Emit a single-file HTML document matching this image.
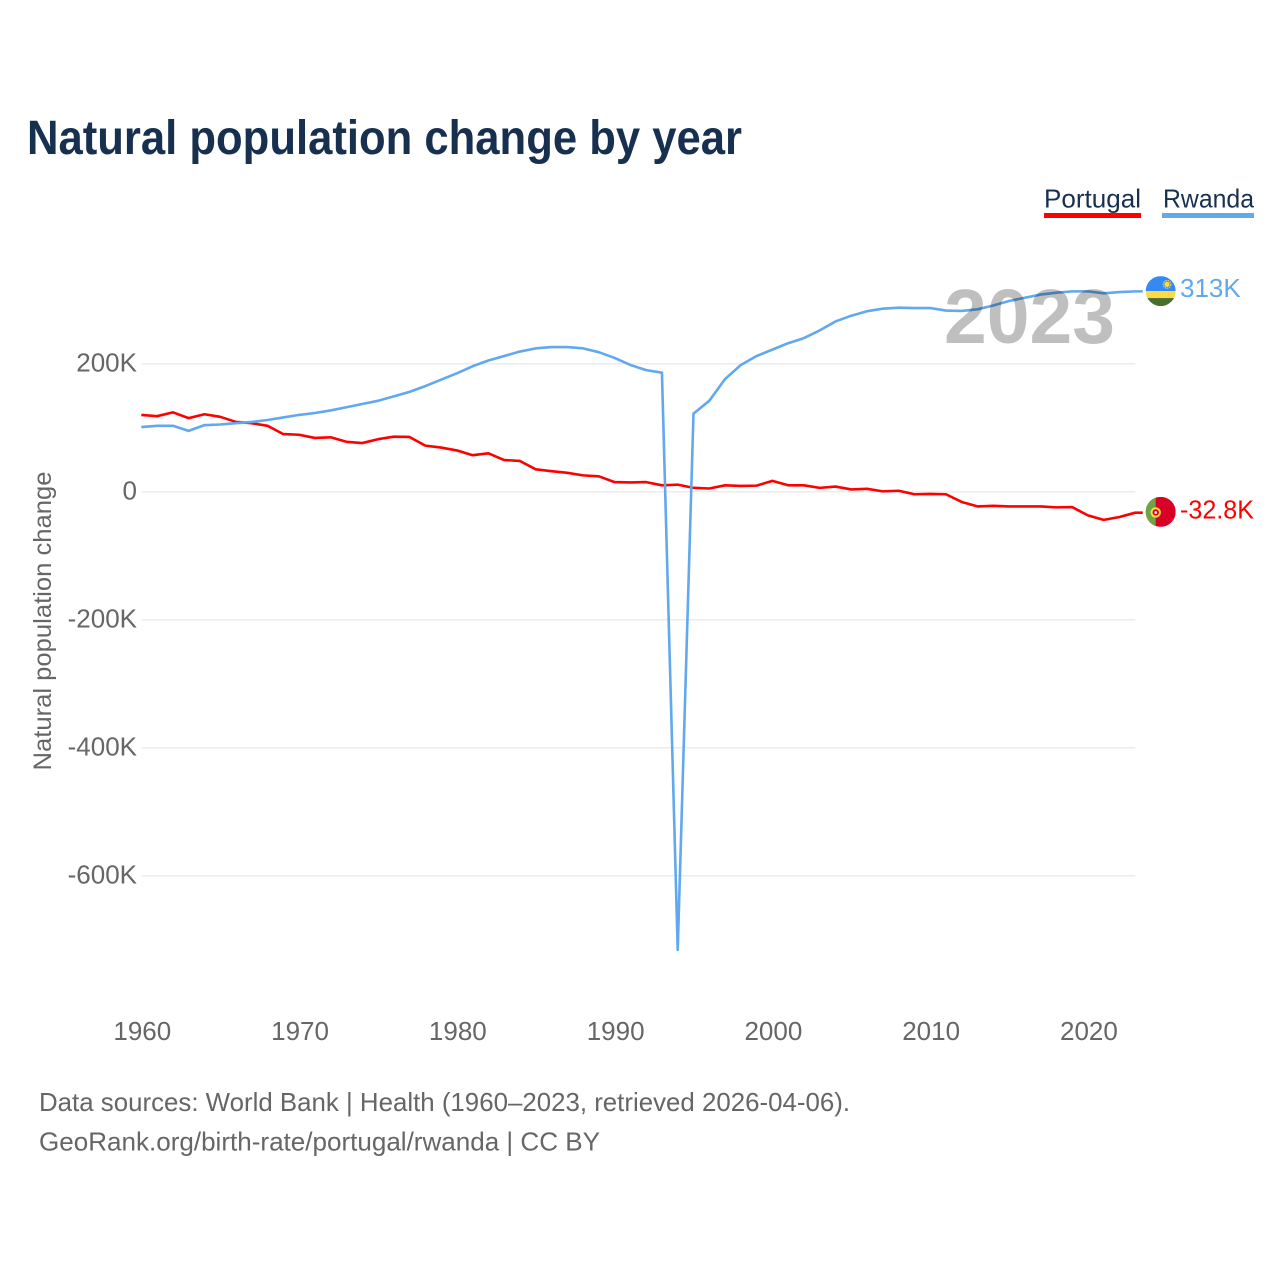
<!DOCTYPE html>
<html lang="en">
<head>
<meta charset="utf-8">
<title>Natural population change by year</title>
<style>
html,body{margin:0;padding:0;background:#fff;width:1280px;height:1280px;overflow:hidden}
svg{display:block;font-family:"Liberation Sans",sans-serif}
</style>
</head>
<body>
<svg id="chart" xmlns="http://www.w3.org/2000/svg" width="1280" height="1280" viewBox="0 0 1280 1280">
  <defs>
    <clipPath id="flag-clip"><circle cx="0" cy="0" r="15"></circle></clipPath>
  </defs>
  <text x="27" y="154" font-size="48" font-weight="700" fill="#17304f" textLength="715" lengthAdjust="spacingAndGlyphs">Natural population change by year</text>

  <g>
    <text x="1044" y="207.5" font-size="26" fill="#17304f" textLength="97" lengthAdjust="spacingAndGlyphs">Portugal</text>
    <rect x="1044" y="213" width="97" height="5" fill="#ff0000"></rect>
  </g>
  <g>
    <text x="1163" y="207.5" font-size="26" fill="#17304f" textLength="91" lengthAdjust="spacingAndGlyphs">Rwanda</text>
    <rect x="1162" y="213" width="92" height="5" fill="#62a8ee"></rect>
  </g>

  <g id="grid"></g>
  <g id="y-ticks"></g>
  <g id="x-ticks"></g>
  <text transform="translate(51,621) rotate(-90)" text-anchor="middle" font-size="25" fill="#666666" textLength="299" lengthAdjust="spacingAndGlyphs">Natural population change</text>

  <g id="series"></g>

  <text x="944" y="343" font-size="77" font-weight="700" fill="#000000" fill-opacity="0.25" textLength="171" lengthAdjust="spacingAndGlyphs">2023</text>

  <g id="end-rwanda">
    <g clip-path="url(#flag-clip)">
      <rect x="-15" y="-15" width="30" height="15" fill="#338af3"></rect>
      <rect x="-15" y="0" width="30" height="7" fill="#ffda44"></rect>
      <rect x="-15" y="7" width="30" height="8" fill="#496e2d"></rect>
      <circle cx="6.3" cy="-6.7" r="2.6" fill="#ffda44"></circle>
      <circle cx="6.3" cy="-6.7" r="3.8" fill="none" stroke="#ffda44" stroke-width="1.2" stroke-dasharray="1.3 1"></circle>
    </g>
    <text id="label-rwanda" x="19.3" y="6" font-size="26" fill="#62a8ee"></text>
  </g>
  <g id="end-portugal">
    <g clip-path="url(#flag-clip)">
      <rect x="-15" y="-15" width="30" height="30" fill="#d80027"></rect>
      <rect x="-15" y="-15" width="10" height="30" fill="#6da544"></rect>
      <circle cx="-5" cy="0.5" r="5.2" fill="#ffda44"></circle>
      <circle cx="-5" cy="0.5" r="3.2" fill="#d80027"></circle>
      <rect x="-6.2" y="-0.8" width="2.4" height="2.8" rx="0.8" fill="#f0f0f0"></rect>
    </g>
    <text id="label-portugal" x="19.3" y="6.5" font-size="26" fill="#ff0000" textLength="74" lengthAdjust="spacingAndGlyphs"></text>
  </g>

  <text x="39" y="1111" font-size="26" fill="#666666" textLength="811" lengthAdjust="spacingAndGlyphs">Data sources: World Bank | Health (1960–2023, retrieved 2026-04-06).</text>
  <text x="39" y="1150.5" font-size="26" fill="#666666" textLength="561" lengthAdjust="spacingAndGlyphs">GeoRank.org/birth-rate/portugal/rwanda | CC BY</text>
</svg>
<script>
const startYear = 1960;
const xTickLabels = [1960, 1970, 1980, 1990, 2000, 2010, 2020];
const yTickValues = [200, 0, -200, -400, -600];
const yTickLabels = ["200K", "0", "-200K", "-400K", "-600K"];
const portugalValues = [120,118,124,115,121,117,109,107,103,90,89,84,85,78,76,82,86,85.5,72,69,64.5,57,60,49.5,48,35,32,29.5,25.5,24,15,14.5,15,10,11,6,5,10,9,9.5,17,10,10,6,8,3.5,4.5,0.5,1.5,-4,-3.5,-4,-16,-23,-22,-23,-23,-23,-24.5,-24,-37,-44,-39.5,-32.8];
const rwandaValues = [101,103,103,95,104,105,107,109,112,116,120,123,127,132,137,142,149,156,165,175,185,196,205,212,219,224,226,226,224,218,209,198,190,186,-716,122,142,176,198,212,222,232,240,252,266,275,282,286,287.5,287,287,283,282.5,285,291,298,303,308,311,313,313,310,312,313];

const NS = "http://www.w3.org/2000/svg";
function xScale(year) { return 141.3 + (year - 1960) * 15.777; }
function yScale(value) { return 491.7 - value * 0.64; }
function formatValue(v) {
  return (Math.abs(v) >= 100 ? String(Math.round(v)) : v.toFixed(1)) + "K";
}

const grid = document.getElementById("grid");
const yTicks = document.getElementById("y-ticks");
yTickValues.forEach(function (v, i) {
  const line = document.createElementNS(NS, "line");
  
  
  line.setAttribute("x1", xScale(1960));
  line.setAttribute("x2", xScale(2023));
  line.setAttribute("y1", yScale(v));
  line.setAttribute("y2", yScale(v));
  line.setAttribute("stroke", "#ececec");
  line.setAttribute("stroke-width", "1.5");
  grid.appendChild(line);
  const t = document.createElementNS(NS, "text");
  
  
  t.setAttribute("x", 137);
  t.setAttribute("y", yScale(v) + 8);
  t.setAttribute("text-anchor", "end");
  t.setAttribute("font-size", "26");
  t.setAttribute("fill", "#666666");
  t.textContent = yTickLabels[i];
  yTicks.appendChild(t);
});

const xTicks = document.getElementById("x-ticks");
xTickLabels.forEach(function (year) {
  const t = document.createElementNS(NS, "text");
  
  
  t.setAttribute("x", xScale(year) + 1);
  t.setAttribute("y", 1040);
  t.setAttribute("text-anchor", "middle");
  t.setAttribute("font-size", "26");
  t.setAttribute("fill", "#666666");
  t.textContent = String(year);
  xTicks.appendChild(t);
});

function linePath(values) {
  let d = values.map(function (v, i) {
    return (i ? "L" : "M") + xScale(startYear + i).toFixed(2) + " " + yScale(v).toFixed(2);
  }).join(" ");
  const lastY = yScale(values[values.length - 1]);
  const lastX = xScale(startYear + values.length - 1);
  return d + " L" + (lastX + 7.5).toFixed(2) + " " + lastY.toFixed(2);
}

const seriesGroup = document.getElementById("series");
const portugalLine = document.createElementNS(NS, "path");


portugalLine.setAttribute("d", linePath(portugalValues));
portugalLine.setAttribute("fill", "none");
portugalLine.setAttribute("stroke", "#ff0000");
portugalLine.setAttribute("stroke-width", "2.6");
portugalLine.setAttribute("stroke-linejoin", "round");
seriesGroup.appendChild(portugalLine);

const rwandaLine = document.createElementNS(NS, "path");


rwandaLine.setAttribute("d", linePath(rwandaValues));
rwandaLine.setAttribute("fill", "none");
rwandaLine.setAttribute("stroke", "#62a8ee");
rwandaLine.setAttribute("stroke-width", "2.6");
rwandaLine.setAttribute("stroke-linejoin", "round");
seriesGroup.appendChild(rwandaLine);

const lastRwanda = rwandaValues[rwandaValues.length - 1];
const lastPortugal = portugalValues[portugalValues.length - 1];
document.getElementById("end-rwanda").setAttribute("transform", "translate(1160.7," + (yScale(lastRwanda) - 0.3) + ")");
document.getElementById("end-portugal").setAttribute("transform", "translate(1160.7," + (yScale(lastPortugal) - 0.8) + ")");
document.getElementById("label-rwanda").textContent = formatValue(lastRwanda);
document.getElementById("label-portugal").textContent = formatValue(lastPortugal);
</script>
</body>
</html>
